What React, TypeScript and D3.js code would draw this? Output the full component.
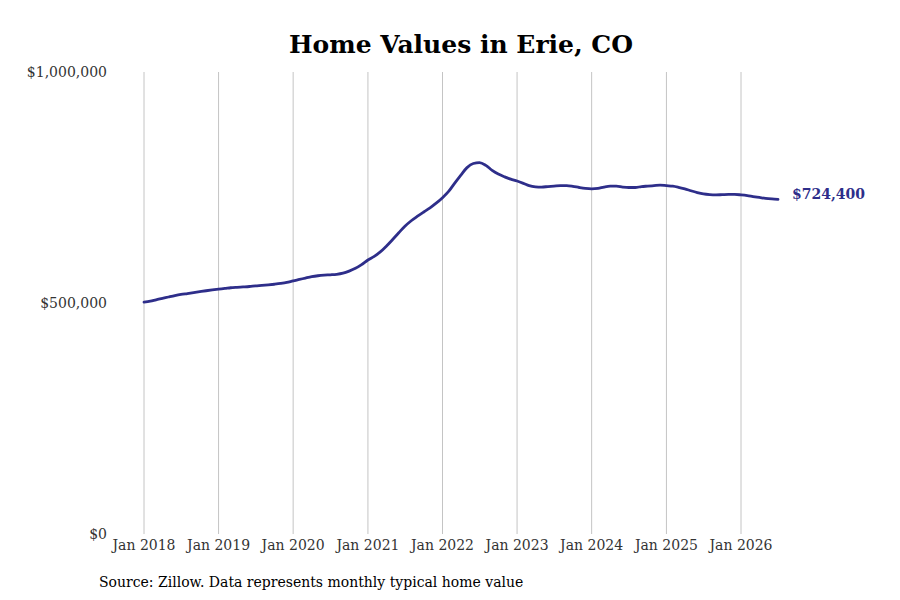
import React from "react";
import * as d3 from "d3";

// monthly typical home value, Jan 2018 .. Jul 2026
const START_YEAR = 2018;
const VALUES = [
  502000, 504000, 507000, 510000, 513000, 516000, 518500, 520500, 522500, 524500, 526500, 528300,
  530000, 531500, 533000, 534000, 534800, 535700, 537000, 538000, 539200, 540600, 542300, 544500,
  548000, 551000, 554000, 557000, 559000, 560300, 561000, 562000, 564500, 569000, 575000, 583000,
  593000, 601000, 610000, 623000, 637000, 652000, 666000, 678000, 688000, 697000, 706000, 716000,
  728000, 742000, 759000, 777000, 793000, 802000, 804000, 798000, 787000, 779000, 773000, 768000,
  764000, 759000, 754000, 751500, 751000, 752000, 753000, 754000, 754000, 752500, 750000, 748000,
  747000, 748000, 751000, 753000, 753000, 751000, 750000, 750000, 752000, 753000, 754000, 755000,
  754000, 753000, 750500, 747000, 743000, 739000, 736000, 734500, 734000, 734500, 735000, 735000,
  734000, 732500, 730500, 728500, 726500, 725200, 724400,
];
const X_TICK_YEARS = [2018, 2019, 2020, 2021, 2022, 2023, 2024, 2025, 2026];
const Y_TICKS = [0, 500000, 1000000];

const TITLE = "Home Values in Erie, CO";
const SOURCE = "Source: Zillow. Data represents monthly typical home value";
const LINE_COLOR = "#2e2e8a";
const FONT = "'DejaVu Serif', serif";

const W = 900;
const H = 600;

export default function App() {
  const data = VALUES.map((v, i) => ({ date: new Date(START_YEAR, i, 1), value: v }));

  const x = d3
    .scaleTime()
    .domain([new Date(2018, 0, 1), new Date(2026, 0, 1)])
    .range([144, 741]);
  const y = d3.scaleLinear().domain([0, 1000000]).range([534, 72]);

  const line = d3
    .line<(typeof data)[number]>()
    .x((d) => x(d.date))
    .y((d) => y(d.value))
    .curve(d3.curveMonotoneX);

  const last = data[data.length - 1];
  const money = d3.format("$,");

  return (
    <svg
      width={W}
      height={H}
      style={{ position: "fixed", left: 0, top: 0, background: "#fff" }}
      fontFamily={FONT}
    >
      <rect width={W} height={H} fill="#fff" />
      <text x={461} y={53} textAnchor="middle" fontSize={25} fontWeight="bold" fill="#000">
        {TITLE}
      </text>

      {X_TICK_YEARS.map((yr) => {
        const xx = x(new Date(yr, 0, 1));
        return (
          <g key={yr}>
            <line x1={xx} x2={xx} y1={y(1000000)} y2={y(0)} stroke="#c4c4c4" strokeWidth={1} />
            <text x={xx} y={550} textAnchor="middle" fontSize={14} fill="#333">
              {`Jan ${yr}`}
            </text>
          </g>
        );
      })}

      {Y_TICKS.map((t) => (
        <text key={t} x={107} y={y(t)} dy="0.35em" textAnchor="end" fontSize={14} fill="#333">
          {money(t)}
        </text>
      ))}

      <path
        d={line(data) ?? ""}
        fill="none"
        stroke={LINE_COLOR}
        strokeWidth={2.8}
        strokeLinejoin="round"
        strokeLinecap="round"
      />

      <text
        x={x(last.date) + 14}
        y={y(last.value) - 5}
        dy="0.35em"
        fontSize={14}
        fontWeight="bold"
        fill={LINE_COLOR}
      >
        {money(last.value)}
      </text>

      <text x={99} y={587} fontSize={14} fill="#000" fontFamily={FONT}>
        {SOURCE}
      </text>
    </svg>
  );
}
